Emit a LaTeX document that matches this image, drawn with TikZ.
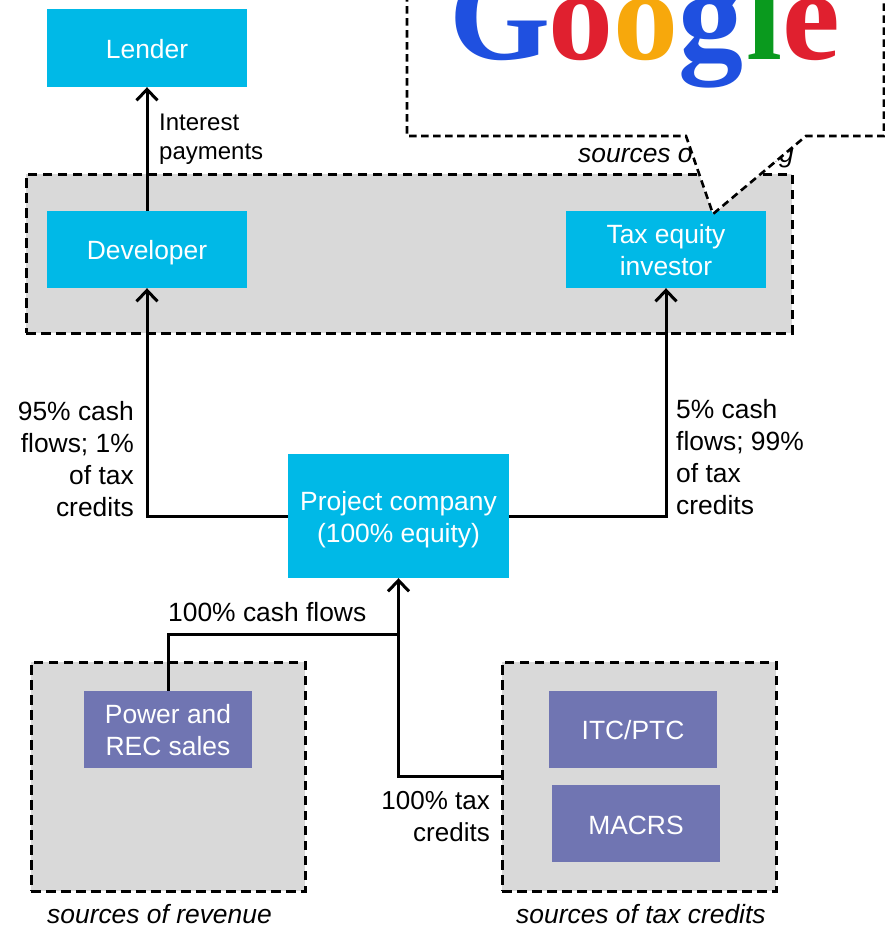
\documentclass[tikz,border=0pt]{standalone}
\usepackage{fontspec}
\setmainfont{Liberation Sans}
\newfontfamily\logofont{Liberation Serif}
\usetikzlibrary{arrows.meta}
\definecolor{cy}{HTML}{00B9E7}
\definecolor{pu}{HTML}{7075B2}
\definecolor{gr}{HTML}{D9D9D9}
\definecolor{gblue}{HTML}{1F50E0}
\definecolor{gred}{HTML}{E0202F}
\definecolor{gyel}{HTML}{F7A80C}
\definecolor{ggrn}{HTML}{0A9A1E}
\tikzset{
  box/.style={inner sep=0pt,align=center,text=white,font=\fontsize{26.4}{32}\selectfont},
  cyanbox/.style={box,fill=cy},
  purplebox/.style={box,fill=pu},
  zone/.style={draw=black,fill=gr,line width=3pt,dash pattern=on 9.5pt off 5.5pt,inner sep=0pt},
  lbl/.style={inner sep=0pt,font=\fontsize{26.4}{32}\selectfont},
  captext/.style={lbl,font=\fontsize{26.4}{32}\selectfont\itshape},
  conn/.style={draw=black,line width=3pt},
  arr/.style={conn,-{Straight Barb[length=11pt,width=21pt,line width=3pt]}},
}
\begin{document}
\begin{tikzpicture}[x=1pt,y=-1pt]
\useasboundingbox (0,0) rectangle (885,930);
\clip (0,0) rectangle (885,930);
% zones
\node[zone,minimum width=766,minimum height=159] (top) at (409,253.5) {};
\node[zone,minimum width=274,minimum height=229] (rev) at (168,776.5) {};
\node[zone,minimum width=274,minimum height=229] (cred) at (639,776.5) {};
% captions
\node[captext,anchor=base west] (capfin) at (578,162) {sources of funding};
\node[captext,anchor=base west] (caprev) at (47,923) {sources of revenue};
\node[captext,anchor=base west] (capcred) at (516,923) {sources of tax credits};
% boxes
\node[cyanbox,minimum width=200,minimum height=78] (lender) at (147,48) {};
\node[box] (lendert) at (147,49) {Lender};
\node[cyanbox,minimum width=200,minimum height=77] (dev) at (147,249.5) {};
\node[box] (devt) at (147,253) {Developer};
\node[cyanbox,minimum width=200,minimum height=77] (tei) at (666,249.5) {};
\node[box] (teit) at (666,250) {Tax equity\\investor};
\node[cyanbox,minimum width=221,minimum height=124] (proj) at (398.5,516) {};
\node[box] (projt) at (398.5,520) {Project company\\(100\% equity)};
\node[purplebox,minimum width=168,minimum height=77] (power) at (168,729.5) {};
\node[box] (powert) at (168,730) {Power and\\REC sales};
\node[purplebox,minimum width=168,minimum height=77] (itc) at (633,729.5) {};
\node[box] (itct) at (633,730) {ITC/PTC};
\node[purplebox,minimum width=168,minimum height=77] (macrs) at (636,823.5) {};
\node[box] (macrst) at (636,825) {MACRS};
% connectors
\coordinate (merge) at (398.5,634);
\draw[arr] (dev.north) -- (lender.south);
\draw[arr] (proj.west) -| (dev.south);
\draw[arr] (proj.east) -| (tei.south);
\draw[conn] (power.north) |- (merge);
\draw[arr] (cred.west) -| (proj.south);
% labels
\node[lbl,anchor=north west,font=\fontsize{24}{29}\selectfont,align=left] (intp) at (159,114) {Interest\\payments};
\node[lbl,anchor=north east,align=right] (l95) at (134,401) {95\% cash\\flows; 1\%\\of tax\\credits};
\node[lbl,anchor=north west,align=left] (l5) at (676,399) {5\% cash\\flows; 99\%\\of tax\\credits};
\node[lbl,anchor=base west] (l100c) at (168,621) {100\% cash flows};
\node[lbl,anchor=north east,align=right,font=\fontsize{26}{32}\selectfont] (l100t) at (490,791) {100\% tax\\credits};
% callout
\path[fill=white,draw=black,line width=2.6pt,dash pattern=on 7.5pt off 4.5pt]
  (407,-6) -- (407,136) -- (686,136) -- (713,214) -- (806,136) -- (884,136) -- (884,-6);
% logo
\node[inner sep=0pt,anchor=base west,font=\logofont\bfseries\fontsize{130}{130}\selectfont] (logo) at (449,59)
 {\textcolor{gblue}{G}\kern-2pt\textcolor{gred}{o}\textcolor{gyel}{o}\textcolor{gblue}{g}\kern3pt\textcolor{ggrn}{l}\textcolor{gred}{e}};
\end{tikzpicture}
\end{document}
